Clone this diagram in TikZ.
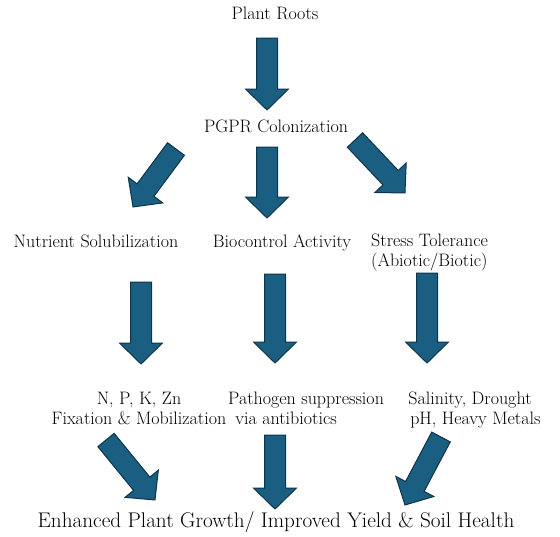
\documentclass[tikz,border=0pt]{standalone}
\usetikzlibrary{calc}
\definecolor{arrowfill}{HTML}{1A5F82}
\definecolor{arrowline}{HTML}{0E3448}
\tikzset{
  lbl/.style={font=\fontsize{18}{20}\selectfont, inner sep=0pt, anchor=base},
  biglbl/.style={font=\fontsize{21.2}{24}\selectfont, inner sep=0pt, anchor=base},
  barrow/.style={fill=arrowfill, draw=arrowline, line width=1pt, line join=miter},
}
\newcommand\blockarrow[2]{%
  \draw[barrow] let \p1=($(#2)-(#1)$), \n1={atan2(\y1,\x1)}, \n2={veclen(\x1,\y1)} in
    [shift={(#1)}, rotate=\n1]
    (0,-10.5) -- (\n2-21,-10.5) -- (\n2-21,-21.5) -- (\n2,0) --
    (\n2-21,21.5) -- (\n2-21,10.5) -- (0,10.5) -- cycle;}
\begin{document}
\begin{tikzpicture}[x=1pt,y=-1pt]
\useasboundingbox (0,0) rectangle (560,536);
% labels (base anchor = baseline of the last line)
\node[lbl] (roots) at (275,19) {Plant Roots};
\node[lbl] (pgpr) at (276,132) {PGPR Colonization};
\node[lbl] (nutr) at (96,247) {Nutrient Solubilization};
\node[lbl] (bioc) at (282,247) {Biocontrol Activity};
\node[lbl, anchor=base west, align=left] (stress) at (371,266) {Stress Tolerance\\(Abiotic/Biotic)};
\node[lbl, align=center] (npk) at (139,424) {N, P, K, Zn\\Fixation \& Mobilization};
\node[lbl, anchor=base west, align=left] (path) at (228,424) {Pathogen suppression\\\hspace{0.4em}via antibiotics};
\node[lbl, align=center] (salin) at (470,424) {Salinity, Drought\\\hspace{0.6em}pH, Heavy Metals};
\node[biglbl] (final) at (276,527) {Enhanced Plant Growth/ Improved Yield \& Soil Health};
% arrow end points
\coordinate (a1t) at (267,38);  \coordinate (a1h) at (267,110);
\coordinate (a2t) at (176,149); \coordinate (a2h) at (133,207);
\coordinate (a3t) at (267,147); \coordinate (a3h) at (267,218);
\coordinate (a4t) at (355,140); \coordinate (a4h) at (405,193);
\coordinate (a5t) at (141,282); \coordinate (a5h) at (141,364);
\coordinate (a6t) at (275,274); \coordinate (a6h) at (275,363);
\coordinate (a7t) at (427,273); \coordinate (a7h) at (427,363);
\coordinate (a8t) at (106,440); \coordinate (a8h) at (155,500);
\coordinate (a9t) at (275,435); \coordinate (a9h) at (275,509);
\coordinate (a10t) at (441,437); \coordinate (a10h) at (405,505);
\blockarrow{a1t}{a1h}
\blockarrow{a2t}{a2h}
\blockarrow{a3t}{a3h}
\blockarrow{a4t}{a4h}
\blockarrow{a5t}{a5h}
\blockarrow{a6t}{a6h}
\blockarrow{a7t}{a7h}
\blockarrow{a8t}{a8h}
\blockarrow{a9t}{a9h}
\blockarrow{a10t}{a10h}
\end{tikzpicture}
\end{document}
